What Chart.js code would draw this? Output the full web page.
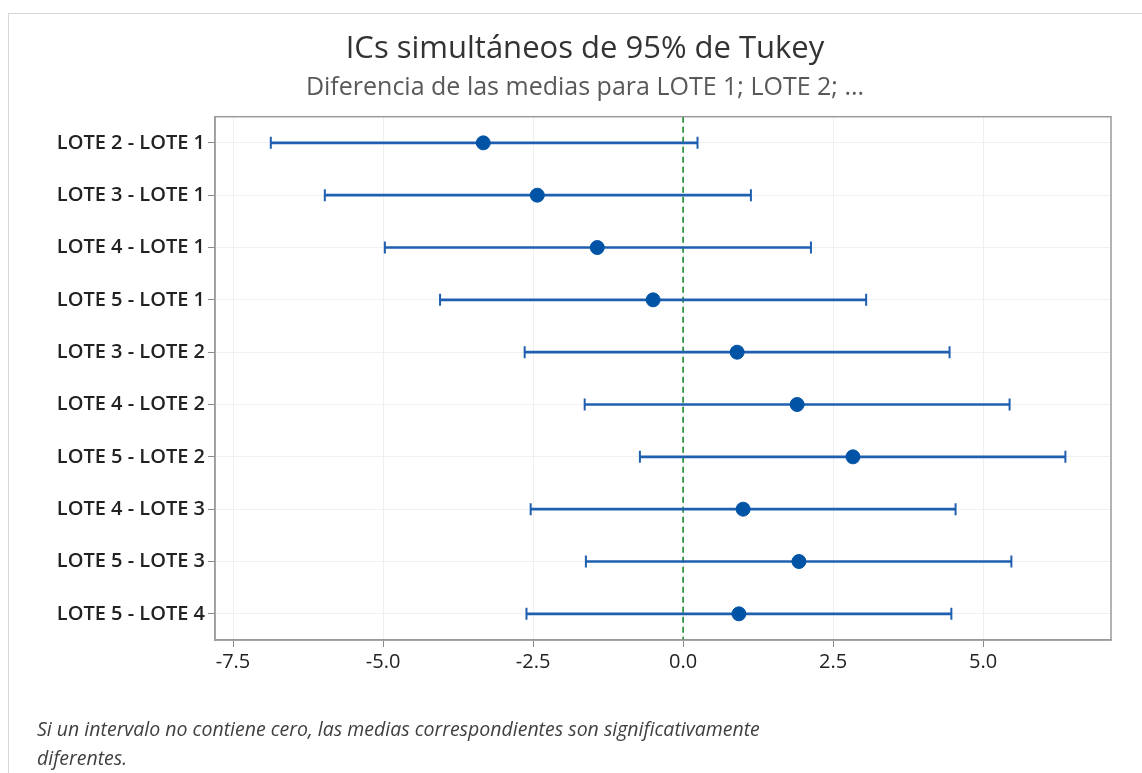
<!DOCTYPE html>
<html>
<head>
<meta charset="utf-8">
<script src="https://cdn.jsdelivr.net/npm/chart.js@4/dist/chart.umd.min.js"></script>
<style>
  html, body { margin: 0; padding: 0; background: #fff; overflow: hidden; }
  #wrap { position: relative; width: 1142px; height: 773px; }
  #frame { position: absolute; left: 8px; top: 13px; width: 1200px; height: 800px;
           border-left: 1px solid #d6d6d6; border-top: 1px solid #d6d6d6; }
  canvas { position: absolute; left: 0; top: 0; }
  #note { position: absolute; left: 37px; top: 714px; font-family: "Open Sans", "Noto Sans", sans-serif;
          font-style: italic; font-size: 19.5px; line-height: 29px; color: #404040; white-space: nowrap; }
</style>
</head>
<body>
<div id="wrap">
  <div id="frame"></div>
  <canvas id="c" width="1142" height="773"></canvas>
  <div id="note">Si un intervalo no contiene cero, las medias correspondientes son significativamente<br>diferentes.</div>
</div>
<script>
const categories = ["LOTE 2 - LOTE 1","LOTE 3 - LOTE 1","LOTE 4 - LOTE 1","LOTE 5 - LOTE 1",
                    "LOTE 3 - LOTE 2","LOTE 4 - LOTE 2","LOTE 5 - LOTE 2","LOTE 4 - LOTE 3",
                    "LOTE 5 - LOTE 3","LOTE 5 - LOTE 4"];
const centers = [-3.33, -2.43, -1.43, -0.50, 0.90, 1.90, 2.83, 1.00, 1.93, 0.93];
const lowers  = [-6.87, -5.97, -4.97, -4.05, -2.64, -1.64, -0.72, -2.54, -1.62, -2.61];
const uppers  = [ 0.24,  1.13,  2.13,  3.05,  4.44,  5.44,  6.37,  4.54,  5.47,  4.47];
const xTickValues = [-7.5, -5.0, -2.5, 0.0, 2.5, 5.0];
const referenceValue = 0;
const titleText = "ICs simultáneos de 95% de Tukey";
const subtitleText = "Diferencia de las medias para LOTE 1; LOTE 2; ...";

const FONT = '"Open Sans", "Noto Sans", sans-serif';
const BLUE = '#1f5fb0';
const DOT = '#0053a5';

const capPoints = [];
categories.forEach((c, i) => { capPoints.push({x: lowers[i], y: c}); capPoints.push({x: uppers[i], y: c}); });

const framePlugin = {
  id: 'frameAndZero',
  beforeDatasetsDraw(chart) {
    const {ctx, chartArea: a, scales} = chart;
    const x0 = scales.x.getPixelForValue(referenceValue);
    ctx.save();
    ctx.strokeStyle = '#1e8a2e';
    ctx.lineWidth = 1.6;
    ctx.setLineDash([6, 4]);
    ctx.beginPath(); ctx.moveTo(x0, a.top); ctx.lineTo(x0, a.bottom); ctx.stroke();
    ctx.restore();
  },
  afterDraw(chart) {
    const {ctx, chartArea: a} = chart;
    ctx.save();
    ctx.strokeStyle = '#9a9a9a';
    ctx.lineWidth = 1.5;
    ctx.strokeRect(a.left, a.top, a.right - a.left, a.bottom - a.top);
    ctx.restore();
  }
};

new Chart(document.getElementById('c'), {
  type: 'bar',
  data: {
    labels: categories,
    datasets: [
      { type: 'line', label: 'centers', indexAxis: 'y', showLine: false,
        data: categories.map((c, i) => ({x: centers[i], y: c})),
        pointStyle: 'circle', pointRadius: 7, pointBackgroundColor: DOT, pointBorderColor: DOT,
        pointBorderWidth: 1, order: 1 },
      { type: 'line', label: 'caps', indexAxis: 'y', showLine: false,
        data: capPoints,
        pointStyle: 'line', pointRotation: 90, pointRadius: 6, pointBorderColor: BLUE,
        pointBorderWidth: 2, order: 2 },
      { type: 'bar', label: 'intervals',
        data: categories.map((c, i) => [lowers[i], uppers[i]]),
        backgroundColor: BLUE, borderWidth: 0, barThickness: 2, order: 3 }
    ]
  },
  options: {
    indexAxis: 'y',
    responsive: false,
    animation: false,
    layout: { padding: { left: 28, right: 0, top: 0, bottom: 93 } },
    plugins: {
      legend: { display: false },
      tooltip: { enabled: false },
      title: { display: true, text: titleText, color: '#333333',
               font: { family: FONT, size: 31, weight: 'normal' }, padding: { top: 31, bottom: 5 } },
      subtitle: { display: true, text: subtitleText, color: '#595959',
                  font: { family: FONT, size: 25, weight: 'normal' }, padding: { top: 0, bottom: 13.5 } }
    },
    scales: {
      x: {
        type: 'linear', min: -7.8, max: 7.13,
        afterBuildTicks(axis) { axis.ticks = xTickValues.map(v => ({value: v})); },
        afterFit(scale) { scale.height = 40; },
        ticks: { color: '#222', font: { family: FONT, size: 20 }, padding: 3,
                 callback: v => Number(v).toFixed(1), maxRotation: 0, autoSkip: false },
        grid: { color: '#efefef', tickColor: '#8a8a8a', tickLength: 7, lineWidth: 1 },
        border: { color: '#9a9a9a', width: 1.5 }
      },
      y: {
        type: 'category', offset: true,
        afterFit(scale) { scale.width = 187; },
        ticks: { color: '#222', font: { family: FONT, size: 20, weight: '600' }, padding: 3 },
        grid: { color: '#f0f0f0', tickColor: '#8a8a8a', tickLength: 7, offset: false, lineWidth: 1 },
        border: { color: '#9a9a9a', width: 1.5 }
      },
      yr: {
        type: 'linear', position: 'right', display: true,
        afterFit(scale) { scale.width = 31; },
        ticks: { display: false }, grid: { display: false }, border: { display: false }
      }
    }
  },
  plugins: [framePlugin]
});
</script>
</body>
</html>
